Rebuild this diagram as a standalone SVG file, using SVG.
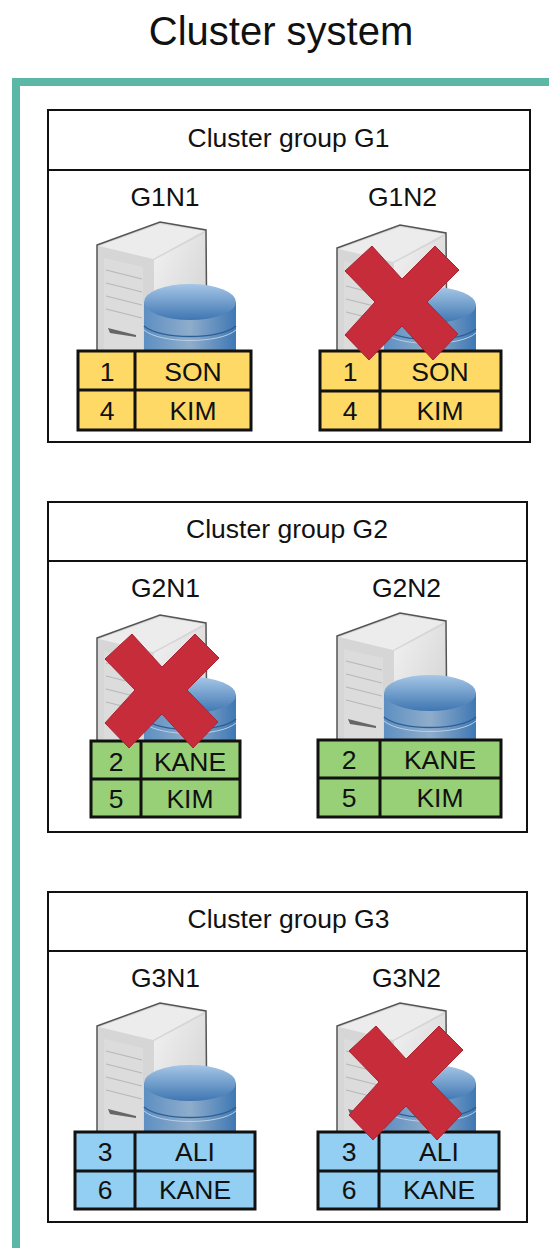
<svg xmlns="http://www.w3.org/2000/svg" width="549" height="1248" viewBox="0 0 549 1248">
<style>
text{font-family:"Liberation Sans",Arial,sans-serif;fill:#111;text-anchor:middle}
.title{font-size:40px}
.lbl{font-size:26.5px}
.cell{font-size:26.5px}
.grp{fill:#fff;stroke:#111;stroke-width:2}
.t{stroke:#111;stroke-width:3}
.y{fill:#ffd966}.g{fill:#97d077}.b{fill:#92cff2}
</style>
<defs>
<filter id="soft" x="-5%" y="-5%" width="110%" height="110%"><feGaussianBlur stdDeviation="0.6"/></filter>
<linearGradient id="cyl" x1="0" x2="1" y1="0" y2="0">
<stop offset="0" stop-color="#5d8fc2"/><stop offset=".5" stop-color="#8fadcb"/><stop offset="1" stop-color="#3f78b4"/>
</linearGradient>
<linearGradient id="cap" x1="0" x2="0" y1="0" y2="1">
<stop offset="0" stop-color="#a5c6e6"/><stop offset="1" stop-color="#3f76b2"/>
</linearGradient>
<linearGradient id="side" x1="0" x2="1" y1="0" y2="1">
<stop offset="0" stop-color="#f2f2f2"/><stop offset="1" stop-color="#cfcfcf"/>
</linearGradient>
<g id="server" filter="url(#soft)">
<path d="M97 245L160 222L206 230L207 352H97Z" fill="#d6d6d6" stroke="#555" stroke-width="1.5"/>
<path d="M99 246L160 224L204 231L153 259Z" fill="#ececec"/>
<path d="M154 260L205 233V352H154Z" fill="url(#side)"/>
<path d="M104 258L143 267V352H104Z" fill="#dcdcdc"/>
<path d="M106 270L142 279M106 283L142 292M106 296L142 305M106 309L142 318" stroke="#b8b8b8" stroke-width="1.2" fill="none"/>
<path d="M108 328L136 335V337L110 333Z" fill="#666"/>
<path d="M144 302V352H236V302Z" fill="url(#cyl)"/>
<path d="M144 326C160 340 220 340 236 326" fill="none" stroke="#2f5f94" stroke-width="1.5"/>
<path d="M144 330C160 344 220 344 236 330" fill="none" stroke="#b9cfe3" stroke-width="1"/>
<ellipse cx="190" cy="302" rx="46" ry="18" fill="url(#cap)"/>
</g>
<polygon id="x" points="-57,-32 -30,-57 0,-24 33,-57 57,-33 25,-1 56,31 31,57 0,23 -33,57 -57,32 -27,-1" fill="#c72c3a" stroke="#a82533" stroke-width="1"/>
</defs>
<text class="title" x="281" y="45">Cluster system</text>
<path d="M16 1248V82H549" fill="none" stroke="#5cb8a6" stroke-width="8"/>

<g id="group-g1">
<rect class="grp" x="48" y="110" width="482" height="332"/>
<path d="M48 170H530" stroke="#111" stroke-width="2"/>
<text class="lbl" x="288.500" y="147">Cluster group G1</text>
</g>
<g id="node-g1n1">
<text class="lbl" x="165" y="206">G1N1</text>
<use href="#server"/>
<rect class="y t" x="78" y="351" width="173" height="79"/>
<path class="t" d="M78 390H251M135 351V430" fill="none"/>
<text class="cell" x="107" y="381">1</text><text class="cell" x="193" y="381">SON</text>
<text class="cell" x="107" y="420">4</text><text class="cell" x="193" y="420">KIM</text>
</g>
<g id="node-g1n2">
<text class="lbl" x="402.500" y="206">G1N2</text>
<use href="#server" x="240" y="3"/>
<rect class="y t" x="320" y="351" width="181" height="79"/>
<path class="t" d="M320 391H501M380 351V430" fill="none"/>
<text class="cell" x="350" y="381">1</text><text class="cell" x="440" y="381">SON</text>
<text class="cell" x="350" y="420">4</text><text class="cell" x="440" y="420">KIM</text>
<use href="#x" x="402" y="303"/>
</g>

<g id="group-g2">
<rect class="grp" x="48" y="502" width="479" height="330"/>
<path d="M48 561H527" stroke="#111" stroke-width="2"/>
<text class="lbl" x="287" y="538">Cluster group G2</text>
</g>
<g id="node-g2n1">
<text class="lbl" x="165.500" y="597">G2N1</text>
<use href="#server" y="393"/>
<rect class="g t" x="91" y="741" width="149" height="76"/>
<path class="t" d="M91 779H240M141 741V817" fill="none"/>
<text class="cell" x="116" y="771">2</text><text class="cell" x="190" y="771">KANE</text>
<text class="cell" x="116" y="808">5</text><text class="cell" x="190" y="808">KIM</text>
<use href="#x" x="162" y="691"/>
</g>
<g id="node-g2n2">
<text class="lbl" x="406.500" y="597">G2N2</text>
<use href="#server" x="240" y="391"/>
<rect class="g t" x="318" y="740" width="183" height="77"/>
<path class="t" d="M318 778H501M380 740V817" fill="none"/>
<text class="cell" x="349" y="769">2</text><text class="cell" x="440" y="769">KANE</text>
<text class="cell" x="349" y="807">5</text><text class="cell" x="440" y="807">KIM</text>
</g>

<g id="group-g3">
<rect class="grp" x="48" y="892" width="479" height="330"/>
<path d="M48 951H527" stroke="#111" stroke-width="2"/>
<text class="lbl" x="288.500" y="928">Cluster group G3</text>
</g>
<g id="node-g3n1">
<text class="lbl" x="165.500" y="987">G3N1</text>
<use href="#server" y="781"/>
<rect class="b t" x="75" y="1132" width="180" height="77"/>
<path class="t" d="M75 1171H255M135 1132V1209" fill="none"/>
<text class="cell" x="105" y="1161">3</text><text class="cell" x="195" y="1161">ALI</text>
<text class="cell" x="105" y="1199">6</text><text class="cell" x="195" y="1199">KANE</text>
</g>
<g id="node-g3n2">
<text class="lbl" x="406.500" y="987">G3N2</text>
<use href="#server" x="240" y="781"/>
<rect class="b t" x="318" y="1132" width="181" height="77"/>
<path class="t" d="M318 1171H499M379 1132V1209" fill="none"/>
<text class="cell" x="349" y="1161">3</text><text class="cell" x="439" y="1161">ALI</text>
<text class="cell" x="349" y="1199">6</text><text class="cell" x="439" y="1199">KANE</text>
<use href="#x" x="406" y="1083"/>
</g>
</svg>
